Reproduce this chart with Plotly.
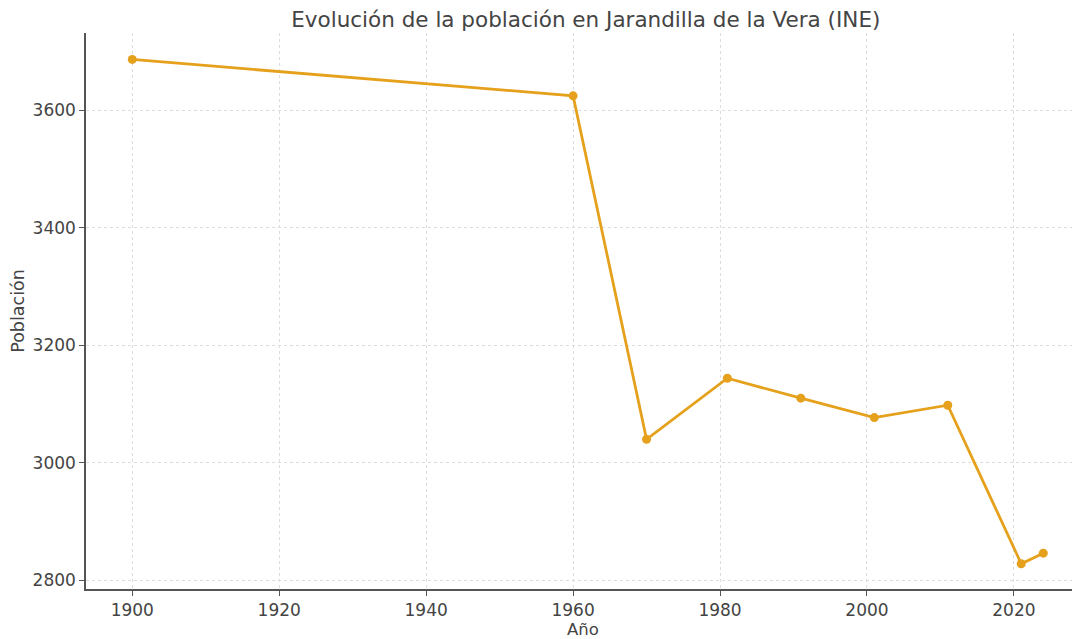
import plotly.graph_objects as go

years = [1900, 1960, 1970, 1981, 1991, 2001, 2011, 2021, 2024]
population = [3687, 3625, 3040, 3144, 3110, 3077, 3098, 2828, 2846]
x_ticks = [1900, 1920, 1940, 1960, 1980, 2000, 2020]
y_ticks = [2800, 3000, 3200, 3400, 3600]

color = "#E5A11C"
fig = go.Figure(go.Scatter(
    x=years, y=population, mode="lines+markers",
    line=dict(color=color, width=2.8),
    marker=dict(color=color, size=9),
))

axis_common = dict(
    showgrid=True, gridcolor="#dddddd", griddash="dot", gridwidth=1,
    showline=True, linecolor="#555555", linewidth=1.5,
    ticks="outside", ticklen=5, tickcolor="#555555",
    tickfont=dict(family="DejaVu Sans", size=17, color="#444444"),
    zeroline=False, mirror=False,
)
fig.update_xaxes(range=[1893.7, 2029], tickvals=x_ticks,
                 title=dict(text="Año", font=dict(family="DejaVu Sans", size=16.5, color="#444444"), standoff=7),
                 **axis_common)
fig.update_yaxes(range=[2785, 3732], tickvals=y_ticks,
                 title=dict(text="Población", font=dict(family="DejaVu Sans", size=17.5, color="#444444"), standoff=7),
                 **axis_common)
fig.update_layout(
    width=1072, height=631,
    margin=dict(l=78, r=0, t=25, b=43),
    plot_bgcolor="white", paper_bgcolor="white",
    showlegend=False,
    title=dict(text="Evolución de la población en Jarandilla de la Vera (INE)",
               font=dict(family="DejaVu Sans", size=21.5, color="#444444"),
               x=0.539, xanchor="center", y=0.982, yanchor="middle"),
)
fig.write_html("out.html")
